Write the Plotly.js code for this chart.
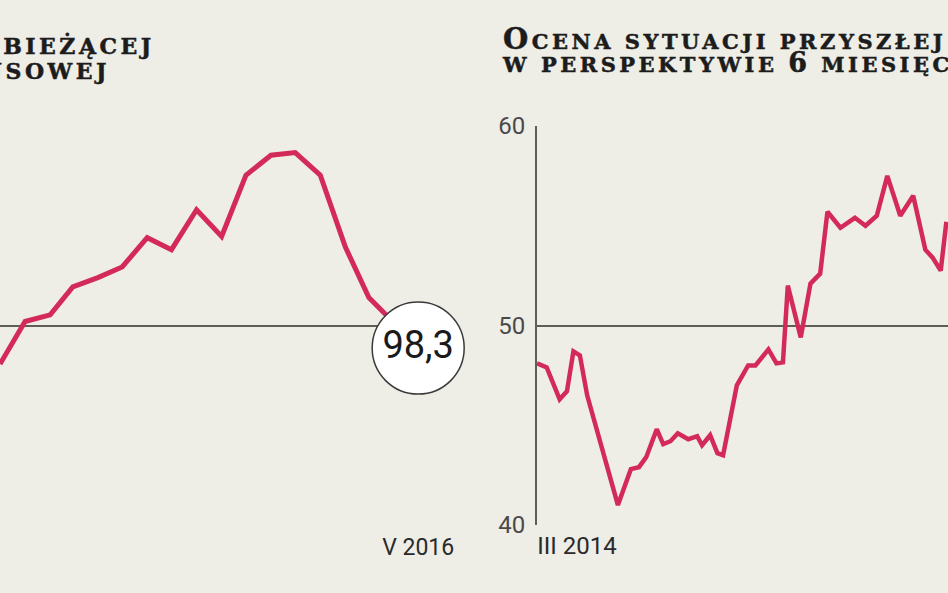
<!DOCTYPE html>
<html>
<head>
<meta charset="utf-8">
<script src="https://cdn.plot.ly/plotly-3.0.1.min.js"></script>
<style>
  html, body { margin: 0; padding: 0; background: #EEEDE6; }
  #chart { width: 948px; height: 593px; }
</style>
</head>
<body>
<div id="chart"></div>
<script>
// Left panel: monthly index, XII 2014 – V 2016
const leftMonths = ['2014-12-01','2015-01-01','2015-02-01','2015-03-01','2015-04-01','2015-05-01',
  '2015-06-01','2015-07-01','2015-08-01','2015-09-01','2015-10-01','2015-11-01','2015-12-01',
  '2016-01-01','2016-02-01','2016-03-01','2016-04-01','2016-05-01'];
const leftValues = [97.1, 100.3, 100.8, 102.9, 103.6, 104.4, 106.6, 105.7, 108.7, 106.7,
  111.3, 112.8, 113.0, 111.3, 105.9, 102.1, 100.2, 98.3];
const leftTickVals = ['2016-05-01'];
const leftTickText = ['V 2016'];
const leftYTicks = [85, 100, 115];

// Right panel: "Ocena sytuacji przyszłej w perspektywie 6 miesięcy"
const rightDates = ['2014-03-01','2014-03-13','2014-03-29','2014-04-07','2014-04-15','2014-04-23',
  '2014-05-02','2014-06-09','2014-06-25','2014-07-05','2014-07-14','2014-07-27','2014-08-04',
  '2014-08-13','2014-08-22','2014-09-04','2014-09-15','2014-09-21','2014-10-01','2014-10-10',
  '2014-10-17','2014-11-03','2014-11-17','2014-11-26','2014-12-12','2014-12-22','2014-12-30',
  '2015-01-05','2015-01-21','2015-02-02','2015-02-14','2015-02-23','2015-03-11','2015-03-29',
  '2015-04-11','2015-04-25','2015-05-08','2015-05-24','2015-06-09','2015-06-24','2015-07-03',
  '2015-07-13','2015-07-20'];
const rightValues = [48.1, 47.9, 46.3, 46.7, 48.7, 48.5, 46.5, 41.0, 42.8, 42.9, 43.4, 44.8, 44.05,
  44.2, 44.6, 44.3, 44.45, 44.0, 44.5, 43.6, 43.5, 47.0, 48.0, 48.0, 48.8, 48.1, 48.15,
  52.0, 49.4, 52.1, 52.6, 55.7, 54.9, 55.4, 55.0, 55.5, 57.5, 55.5, 56.5, 53.8, 53.4,
  52.75, 55.2];
const rightTickVals = ['2014-03-01'];
const rightTickText = ['III 2014'];
const rightYTicks = [40, 50, 60];

const BG = '#EEEDE6';
const RED = '#D42A5A';
const GRID = '#5E5E57';
const TITLE_FONT = 'DejaVu Serif, serif';
const LABEL_FONT = 'Roboto, Liberation Sans, sans-serif';

function sc(s, size, ls) {
  return '<span style="font-size:' + size + 'px;letter-spacing:' + ls +
         'px;stroke:#1c1c1c;stroke-width:0.5px">' + s + '</span>';
}

const lastIdx = leftValues.length - 1;
const lastLabel = leftValues[lastIdx].toFixed(1).replace('.', ',');

const traces = [
  { x: leftMonths, y: leftValues, xaxis: 'x', yaxis: 'y', type: 'scatter', mode: 'lines',
    line: { color: RED, width: 5, shape: 'linear' }, hoverinfo: 'skip' },
  { x: [leftMonths[lastIdx]], y: [leftValues[lastIdx]], xaxis: 'x', yaxis: 'y',
    type: 'scatter', mode: 'markers+text', cliponaxis: false,
    marker: { size: 92, color: '#FFFFFF', line: { color: '#3a3a3a', width: 1.5 } },
    text: [lastLabel], textposition: 'middle center',
    textfont: { family: LABEL_FONT, size: 38, color: '#1a1a1a' }, hoverinfo: 'skip' },
  { x: rightDates, y: rightValues, xaxis: 'x2', yaxis: 'y2', type: 'scatter', mode: 'lines',
    line: { color: RED, width: 4.5, shape: 'linear' }, hoverinfo: 'skip' }
];

const layout = {
  width: 948, height: 593,
  margin: { l: 0, r: 0, t: 126, b: 68, pad: 0 },
  paper_bgcolor: BG, plot_bgcolor: BG,
  showlegend: false,
  xaxis: {
    domain: [0, 457/948], type: 'date', range: ['2014-12-01', '2016-06-18'],
    showgrid: false, zeroline: false, showline: false, ticks: '',
    tickvals: leftTickVals, ticktext: leftTickText, ticklabelstandoff: 6,
    tickfont: { family: LABEL_FONT, size: 23, color: '#2a2a2a' }, fixedrange: true
  },
  yaxis: {
    domain: [0, 1], range: [85, 115], tickvals: leftYTicks, showticklabels: false,
    showgrid: true, gridcolor: GRID, gridwidth: 2, zeroline: false, showline: false, ticks: '',
    fixedrange: true
  },
  xaxis2: {
    domain: [537/948, 1], anchor: 'y2', type: 'date', range: ['2014-03-01', '2015-07-22'],
    showgrid: false, zeroline: false, showline: false, ticks: '',
    tickvals: rightTickVals, ticktext: rightTickText, ticklabelshift: 40, ticklabelstandoff: 4,
    tickfont: { family: LABEL_FONT, size: 24, color: '#2a2a2a' }, fixedrange: true
  },
  yaxis2: {
    domain: [0, 1], anchor: 'x2', range: [40, 60], tickvals: rightYTicks,
    showgrid: true, gridcolor: GRID, gridwidth: 2, zeroline: false,
    showline: true, linecolor: GRID, linewidth: 2, ticks: '', ticklabelstandoff: 5,
    tickfont: { family: LABEL_FONT, size: 24, color: '#4a4a4a' }, fixedrange: true
  },
  annotations: [
    // right panel title (cropped on the right)
    { xref: 'paper', yref: 'paper', x: 500/948, y: 1.19, xanchor: 'left', yanchor: 'middle',
      showarrow: false, align: 'left',
      text: sc('<span style="font-size:29px">O</span>CENA SYTUACJI PRZYSZŁEJ', 21, 3.5) + '<br>' +
            sc('W PERSPEKTYWIE <span style="font-size:27px">6</span> MIESIĘCY', 21, 3.5),
      font: { family: TITLE_FONT, size: 18, color: '#1c1c1c', weight: 'bold' } },
    // left panel title (cropped on the left)
    { xref: 'paper', yref: 'paper', x: 157/948, y: 1.178, xanchor: 'right', yanchor: 'middle',
      showarrow: false, align: 'right',
      text: sc('<span style="font-size:30px">O</span>CENA SYTUACJI BIEŻĄCEJ', 22, 3.5) + '<br>' +
            sc('FINANSOWEJ\u00A0\u00A0\u00A0\u00A0', 22, 3.5),
      font: { family: TITLE_FONT, size: 19.5, color: '#1c1c1c', weight: 'bold' } }
  ]
};

Plotly.newPlot('chart', traces, layout, { displayModeBar: false, staticPlot: true });
</script>
</body>
</html>
